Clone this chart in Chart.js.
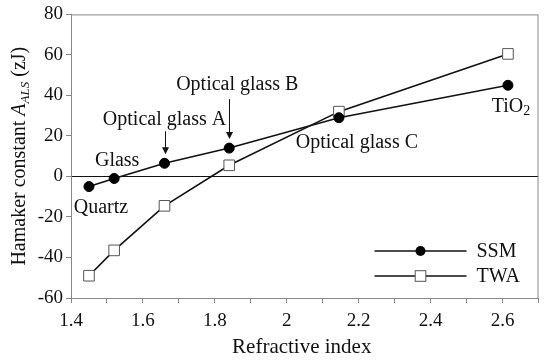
<!DOCTYPE html>
<html>
<head>
<meta charset="utf-8">
<script src="https://cdn.jsdelivr.net/npm/chart.js@4"></script>
<style>
  body { margin: 0; background: #fff; }
</style>
</head>
<body>
<canvas id="chart" width="547" height="364"></canvas>
<script>
// Data
const materials = ['Quartz', 'Glass', 'Optical glass A', 'Optical glass B', 'Optical glass C', 'TiO2'];
const refractiveIndex = [1.45, 1.52, 1.66, 1.84, 2.145, 2.615];
const ssmValues = [-5, -1, 6.5, 14, 29, 45];
const twaValues = [-49, -36.5, -14.5, 5.5, 32, 60.5];
const xTickLabels = [1.4, 1.6, 1.8, 2, 2.2, 2.4, 2.6];
const yTickValues = [-60, -40, -20, 0, 20, 40, 60, 80];

const FONT = '"Liberation Serif", "Times New Roman", serif';
const TEXT = '#111';

// label placement next to the SSM points (pixel offsets)
const labelOffsets = [
    { dx: 12, dy: 21 },
    { dx: 3, dy: -18 },
    { dx: 0, dy: -44, arrow: [-32, -9] },
    { dx: 8, dy: -63, arrow: [-49, -9] },
    { dx: 18, dy: 25 },
    { dx: 3, dy: 21 }
];

function drawArrow(ctx, x, y1, y2) {
    ctx.beginPath();
    ctx.moveTo(x, y1);
    ctx.lineTo(x, y2 - 6);
    ctx.stroke();
    ctx.beginPath();
    ctx.moveTo(x - 3.5, y2 - 7);
    ctx.lineTo(x + 3.5, y2 - 7);
    ctx.lineTo(x, y2);
    ctx.closePath();
    ctx.fill();
}

const decorations = {
    id: 'decorations',
    beforeDatasetsDraw(chart) {
        const { ctx, chartArea } = chart;
        ctx.save();
        ctx.strokeStyle = '#888';
        ctx.lineWidth = 1;
        ctx.strokeRect(chartArea.left + 0.5, chartArea.top + 0.5,
            chartArea.right - chartArea.left - 1, chartArea.bottom - chartArea.top);
        ctx.restore();
    },
    afterDraw(chart) {
        const { ctx, chartArea } = chart;
        const xs = chart.scales.x, ys = chart.scales.y;
        ctx.save();
        ctx.fillStyle = TEXT;
        ctx.strokeStyle = '#111';
        ctx.lineWidth = 1;

        // point labels
        ctx.font = '20px ' + FONT;
        ctx.textAlign = 'center';
        ctx.textBaseline = 'middle';
        materials.forEach((name, i) => {
            const px = xs.getPixelForValue(refractiveIndex[i]);
            const py = ys.getPixelForValue(ssmValues[i]);
            const o = labelOffsets[i];
            if (name === 'TiO2') {
                const w1 = ctx.measureText('TiO').width;
                ctx.font = '14px ' + FONT;
                const w2 = ctx.measureText('2').width;
                const left = px + o.dx - (w1 + w2) / 2;
                ctx.textAlign = 'left';
                ctx.fillText('2', left + w1, py + o.dy + 5);
                ctx.font = '20px ' + FONT;
                ctx.fillText('TiO', left, py + o.dy);
                ctx.textAlign = 'center';
            } else {
                ctx.fillText(name, px + o.dx, py + o.dy);
            }
            if (o.arrow) {
                ctx.fillStyle = '#111';
                drawArrow(ctx, Math.round(px) + 0.5, py + o.arrow[0], py + o.arrow[1]);
                ctx.fillStyle = TEXT;
            }
        });

        // axis titles
        ctx.font = '21px ' + FONT;
        ctx.textAlign = 'center';
        ctx.textBaseline = 'alphabetic';
        ctx.fillText('Refractive index', (chartArea.left + chartArea.right) / 2 - 3, 353);

        ctx.save();
        ctx.translate(25, (chartArea.top + chartArea.bottom) / 2);
        ctx.rotate(-Math.PI / 2);
        ctx.textAlign = 'left';
        const parts = [
            { t: 'Hamaker constant ', f: '20px ' + FONT, dy: 0 },
            { t: 'A', f: 'italic 20px ' + FONT, dy: 0 },
            { t: 'ALS', f: 'italic 13px ' + FONT, dy: 4 },
            { t: ' (zJ)', f: '20px ' + FONT, dy: 0 }
        ];
        let total = 0;
        parts.forEach(p => { ctx.font = p.f; p.w = ctx.measureText(p.t).width; total += p.w; });
        let cx = -total / 2;
        parts.forEach(p => { ctx.font = p.f; ctx.fillText(p.t, cx, p.dy); cx += p.w; });
        ctx.restore();

        // legend
        const entries = [
            { label: 'SSM', ds: chart.data.datasets[0], y: chartArea.bottom - 47 },
            { label: 'TWA', ds: chart.data.datasets[1], y: chartArea.bottom - 22 }
        ];
        const lx1 = chartArea.right - 164, lx2 = chartArea.right - 72;
        entries.forEach(e => {
            ctx.strokeStyle = '#111';
            ctx.lineWidth = 1.5;
            ctx.beginPath();
            ctx.moveTo(lx1, e.y);
            ctx.lineTo(lx2, e.y);
            ctx.stroke();
            const mx = (lx1 + lx2) / 2;
            ctx.lineWidth = 1;
            ctx.fillStyle = e.ds.pointBackgroundColor;
            ctx.strokeStyle = e.ds.pointBorderColor;
            if (e.ds.pointStyle === 'rect') {
                const s = e.ds.pointRadius * Math.SQRT1_2;
                ctx.fillRect(mx - s, e.y - s, 2 * s, 2 * s);
                ctx.strokeRect(mx - s, e.y - s, 2 * s, 2 * s);
            } else {
                ctx.beginPath();
                ctx.arc(mx, e.y, e.ds.pointRadius, 0, Math.PI * 2);
                ctx.fill();
            }
            ctx.fillStyle = TEXT;
            ctx.font = '20px ' + FONT;
            ctx.textAlign = 'left';
            ctx.textBaseline = 'middle';
            ctx.fillText(e.label, lx2 + 10, e.y + 1);
        });
        ctx.restore();
    }
};

const ctx = document.getElementById('chart').getContext('2d');
const chart = new Chart(ctx, {
    type: 'scatter',
    data: {
        datasets: [{
            label: 'SSM',
            data: refractiveIndex.map((x, i) => ({ x: x, y: ssmValues[i] })),
            showLine: true,
            borderColor: '#111',
            borderWidth: 1.6,
            pointStyle: 'circle',
            pointRadius: 5,
            pointBackgroundColor: '#000',
            pointBorderColor: '#000',
            pointBorderWidth: 1
        }, {
            label: 'TWA',
            data: refractiveIndex.map((x, i) => ({ x: x, y: twaValues[i] })),
            showLine: true,
            borderColor: '#111',
            borderWidth: 1.6,
            pointStyle: 'rect',
            pointRadius: 7.5,
            pointBackgroundColor: '#fff',
            pointBorderColor: '#555',
            pointBorderWidth: 1
        }]
    },
    options: {
        responsive: false,
        animation: false,
        layout: { padding: { top: 10, right: 2, left: 0, bottom: 0 } },
        plugins: {
            legend: { display: false },
            tooltip: { enabled: false }
        },
        scales: {
            x: {
                type: 'linear',
                min: 1.4,
                max: 2.7,
                afterFit: s => { s.height = 66; },
                border: { color: '#888', width: 1 },
                grid: { drawOnChartArea: false, tickLength: 5, color: '#888' },
                ticks: {
                    stepSize: 0.1,
                    autoSkip: false,
                    maxRotation: 0,
                    padding: 7,
                    color: TEXT,
                    font: { family: FONT, size: 19 },
                    callback: v => {
                        const hit = xTickLabels.find(t => Math.abs(t - v) < 1e-6);
                        return hit === undefined ? '' : String(hit);
                    }
                }
            },
            y: {
                min: yTickValues[0],
                max: yTickValues[yTickValues.length - 1],
                afterFit: s => { s.width = 71; },
                border: { color: '#888', width: 1 },
                grid: {
                    color: c => (c.tick && c.tick.value === 0 ? '#111' : 'rgba(0,0,0,0)'),
                    tickColor: '#888',
                    tickLength: 5
                },
                ticks: {
                    stepSize: 20,
                    padding: 3,
                    color: TEXT,
                    font: { family: FONT, size: 19 }
                }
            }
        }
    },
    plugins: [decorations]
});
</script>
</body>
</html>
